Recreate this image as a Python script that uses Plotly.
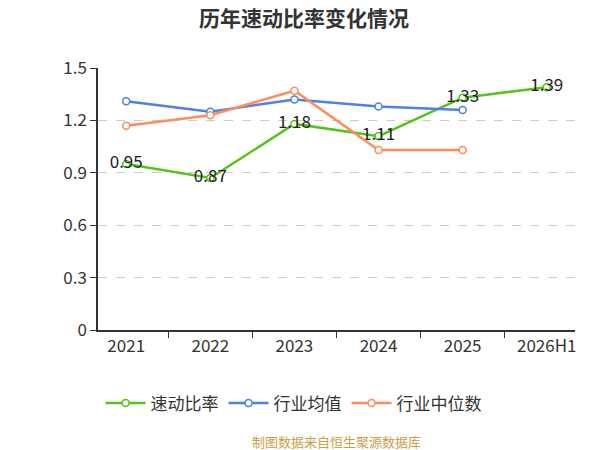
import plotly.graph_objects as go

years = ['2021', '2022', '2023', '2024', '2025', '2026H1']
quick_ratio = [0.95, 0.87, 1.18, 1.11, 1.33, 1.39]
industry_avg = [1.31, 1.25, 1.32, 1.28, 1.26]
industry_median = [1.17, 1.23, 1.37, 1.03, 1.03]

GREEN = '#52C41A'
BLUE = '#4F81E3'
ORANGE = '#FF8C5A'
FONT = 'Noto Sans CJK SC'

fig = go.Figure()
fig.add_trace(go.Scatter(
    x=years, y=quick_ratio, mode='lines+markers+text', name='速动比率',
    line=dict(color=GREEN, width=2.5),
    marker=dict(symbol='circle', size=7, color='white', line=dict(color=GREEN, width=1.5)),
    text=[f'{v:.2f}' for v in quick_ratio], textposition='middle center',
    textfont=dict(size=17, color='#222222'),
))
fig.add_trace(go.Scatter(
    x=years[:5], y=industry_avg, mode='lines+markers', name='行业均值',
    line=dict(color=BLUE, width=2.5),
    marker=dict(symbol='circle', size=7, color='white', line=dict(color=BLUE, width=1.5)),
))
fig.add_trace(go.Scatter(
    x=years[:5], y=industry_median, mode='lines+markers', name='行业中位数',
    line=dict(color=ORANGE, width=2.5),
    marker=dict(symbol='circle', size=7, color='white', line=dict(color=ORANGE, width=1.5)),
))

# page has an 8px body margin, so the figure is a bit smaller than the window
fig.update_layout(
    width=592, height=442,
    margin=dict(l=90, r=25, t=60, b=120),
    paper_bgcolor='white', plot_bgcolor='white',
    font=dict(family=FONT, size=17, color='#333333'),
    title=dict(text='<b>历年速动比率变化情况</b>', x=0.5, xanchor='center',
               y=1, yanchor='top', pad=dict(t=3),
               font=dict(size=21, color='#333333')),
    legend=dict(orientation='h', x=0.41, xanchor='center', y=-0.28, yanchor='middle',
                font=dict(size=17, color='#333333'), itemwidth=40),
    showlegend=True,
)
fig.update_xaxes(
    type='category', tickson='boundaries', ticks='outside', ticklen=6,
    showline=True, linecolor='#333333', linewidth=1.5, tickcolor='#333333',
    showgrid=False, tickfont=dict(size=17, color='#333333'),
)
fig.update_yaxes(
    range=[0, 1.5], dtick=0.3, ticks='outside', ticklen=6,
    showline=True, linecolor='#333333', linewidth=1.5, tickcolor='#333333',
    showgrid=True, gridcolor='#CCCCCC', griddash='dash', zeroline=False,
    tickfont=dict(size=17, color='#333333'),
)
fig.add_annotation(
    text='制图数据来自恒生聚源数据库', xref='paper', yref='paper',
    x=0.5, y=-0.424, xanchor='center', yanchor='middle', showarrow=False,
    font=dict(size=13, color='#C8A04A'),
)

fig.write_html('out.html')
